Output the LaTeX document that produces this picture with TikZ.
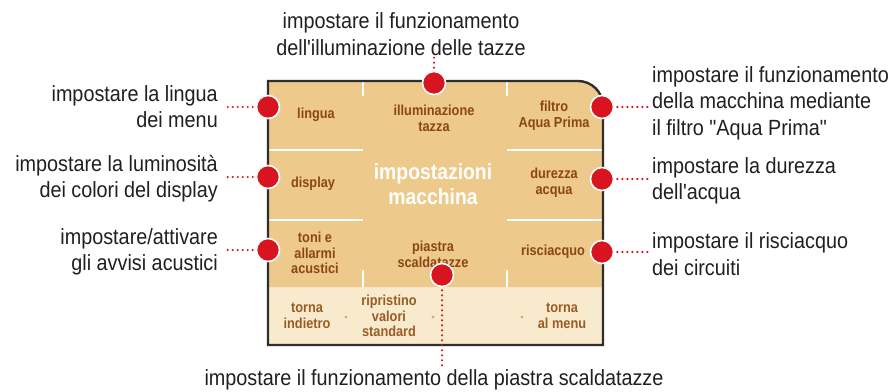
\documentclass[tikz,border=0pt]{standalone}
\usepackage{fontspec}
\setmainfont{Liberation Sans}
\newfontfamily\labfont{Liberation Sans}[FakeStretch=0.9]
\newfontfamily\innfont{Liberation Sans}[FakeStretch=0.88]
\definecolor{tan}{HTML}{EDCA8B}
\definecolor{cream}{HTML}{F8EBCD}
\definecolor{brown}{HTML}{8A4714}
\definecolor{lbrown}{HTML}{9A5B25}
\definecolor{dotred}{HTML}{D7141F}
\definecolor{frame}{HTML}{2E2E2E}
\definecolor{ink}{HTML}{231F20}
\definecolor{smalldot}{HTML}{C9B08C}
\tikzset{
  lab/.style={font=\labfont\fontsize{22}{26.5}\selectfont, text=ink, inner sep=0pt, align=#1},
  lab/.default=center,
  inn/.style={font=\innfont\bfseries\fontsize{14.5}{15.8}\selectfont, text=brown, inner sep=0pt, align=center},
  strip/.style={font=\innfont\bfseries\fontsize{14.5}{15.8}\selectfont, text=lbrown, inner sep=0pt, align=center},
  reddot/.style={circle, fill=dotred, draw=white, line width=1.6pt, minimum size=23pt, inner sep=0pt},
  dotline/.style={dotred, line width=2.4pt, dash pattern=on 0pt off 5pt, line cap=round},
  divider/.style={white, line width=2.6pt},
  tiny/.style={circle, fill=smalldot, minimum size=3.2pt, inner sep=0pt}
}
\begin{document}
\begin{tikzpicture}[x=1pt,y=-1pt]
\useasboundingbox (0,0) rectangle (893,391);
\fill[white] (0,0) rectangle (893,391);
% panel
\fill[cream] (268,287) rectangle (603,345);
\fill[tan] (268,287) -- (268,81) -- (578,81) arc[start angle=-90,end angle=0,radius=25] -- (603,287) -- cycle;
% dividers
\draw[divider] (363,81) -- (363,96);
\draw[divider] (363,270) -- (363,287);
\draw[divider] (507,81) -- (507,96);
\draw[divider] (507,270) -- (507,287);
\draw[divider] (269,150) -- (363,150);
\draw[divider] (507,150) -- (602,150);
\draw[divider] (269,220) -- (363,220);
\draw[divider] (507,220) -- (602,220);
\draw[frame, line width=2.4pt] (268,345) -- (268,81) -- (578,81) arc[start angle=-90,end angle=0,radius=25] -- (603,345) -- cycle;
% inner texts
\node[inn] (lingua) at (316,115) {lingua};
\node[inn] (illum) at (434,118) {illuminazione\\tazza};
\node[inn] (filtro) at (554,115.5) {filtro\\Aqua Prima};
\node[inn] (display) at (313,184) {display};
\node[inn] (durezza) at (554,183) {durezza\\acqua};
\node[inn] (toni) at (315,253) {toni e\\allarmi\\acustici};
\node[inn] (piastra) at (433,254.5) {piastra\\scaldatazze};
\node[inn] (risc) at (553,252) {risciacquo};
\node[font=\innfont\bfseries\fontsize{22}{25.5}\selectfont, text=white, inner sep=0pt, align=center] (centre) at (433,184) {impostazioni\\macchina};
% bottom strip
\node[strip] (torna1) at (307,316) {torna\\indietro};
\node[strip] (ripr) at (389,316) {ripristino\\valori\\standard};
\node[strip] (torna2) at (562,316) {torna\\al menu};
\node[tiny] (s1) at (346,317) {};
\node[tiny] (s2) at (433,317) {};
\node[tiny] (s3) at (522,317) {};
% outer labels
\node[lab] (ltop) at (401,34) {impostare il funzionamento\\dell'illuminazione delle tazze};
\node[lab=right, anchor=east] (l1) at (218,106.5) {impostare la lingua\\dei menu};
\node[lab=right, anchor=east] (l2) at (218,178.5) {impostare la luminosità\\dei colori del display};
\node[lab=right, anchor=east] (l3) at (218,252) {impostare/attivare\\gli avvisi acustici};
\node[lab=left, anchor=west] (r1) at (652,103) {impostare il funzionamento\\della macchina mediante\\il filtro "Aqua Prima"};
\node[lab=left, anchor=west] (r2) at (652,181) {impostare la durezza\\dell'acqua};
\node[lab=left, anchor=west] (r3) at (652,254) {impostare il risciacquo\\dei circuiti};
\node[lab] (lbot) at (434,380) {impostare il funzionamento della piastra scaldatazze};
% dots
\node[reddot] (dtop) at (434,83) {};
\node[reddot] (dl1) at (268,107) {};
\node[reddot] (dl2) at (268,177) {};
\node[reddot] (dl3) at (268,250) {};
\node[reddot] (dr1) at (602,107) {};
\node[reddot] (dr2) at (602,179) {};
\node[reddot] (dr3) at (602,252) {};
\node[reddot] (dbot) at (442,275) {};
% connectors
\coordinate (tl1) at (l1.east |- dl1);
\coordinate (tl2) at (l2.east |- dl2);
\coordinate (tl3) at (l3.east |- dl3);
\coordinate (tr1) at (r1.west |- dr1);
\coordinate (tr2) at (r2.west |- dr2);
\coordinate (tr3) at (r3.west |- dr3);
\coordinate (ttop) at (dtop |- ltop.south);
\coordinate (tbot) at (dbot |- lbot.north);
\draw[dotline, shorten <=3pt, shorten >=5pt] (dl1.west) -- (tl1);
\draw[dotline, shorten <=3pt, shorten >=5pt] (dl2.west) -- (tl2);
\draw[dotline, shorten <=3pt, shorten >=5pt] (dl3.west) -- (tl3);
\draw[dotline, shorten <=3pt, shorten >=4pt] (dr1.east) -- (tr1);
\draw[dotline, shorten <=3pt, shorten >=4pt] (dr2.east) -- (tr2);
\draw[dotline, shorten <=3pt, shorten >=4pt] (dr3.east) -- (tr3);
\draw[dotline, shorten <=3pt, shorten >=1pt] (dtop.north) -- (ttop);
\draw[dotline, shorten <=3pt, shorten >=2pt] (dbot.south) -- (tbot);
\end{tikzpicture}
\end{document}
